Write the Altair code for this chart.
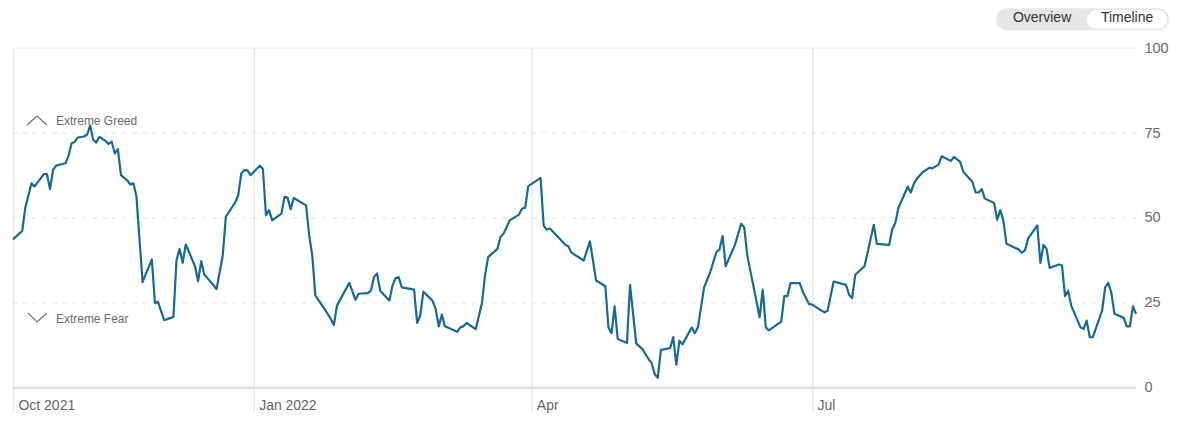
import altair as alt
import pandas as pd

# Days since 2021-10-15 and Fear & Greed index values
days = [0,3,4,6,7,10,11,12,13,14,17,18,19,20,21,23,24,25,26,27,28,30,31,32,33,34,35,37,38,39,40,42,45,46,47,49,52,53,54,55,56,59,60,61,62,66,68,69,
        72,73,74,75,76,77,80,81,82,83,84,87,88,89,90,91,95,96,97,98,101,103,104,105,109,111,112,115,116,117,118,119,122,123,124,125,126,130,131,132,133,136,137,138,139,140,144,145,
        146,147,150,152,153,154,157,158,159,161,164,165,166,167,171,172,173,174,177,179,180,181,185,187,189,192,193,194,195,196,199,200,202,204,206,207,208,209,210,213,214,215,216,217,
        220,221,222,224,226,228,229,230,231,234,236,237,238,242,243,244,245,249,250,251,252,255,256,258,259,263,264,266,270,271,272,273,276,279,280,284,285,286,287,290,
        291,292,293,295,297,298,300,301,304,305,307,308,311,312,313,314,315,318,319,320,321,322,326,327,328,329,332,333,334,335,336,339,340,341,342,343,346,347,348,349,350,353,354,355,356,357,360,361,362,363,364]

values = [43.7,46.2,53.1,60.2,59.3,62.9,62.9,58.5,64.2,65.4,66.1,68.3,72.0,72.4,73.7,74.0,74.5,77.2,73.0,72.2,73.9,72.7,71.8,72.5,69.0,70.3,62.6,61.1,59.9,60.2,56.5,31.1,37.8,25.0,25.3,19.9,20.9,37.6,40.9,36.8,42.2,35.8,31.4,37.3,33.4,29.1,39.1,50.4,
          54.5,56.7,63.1,64.1,64.0,62.6,65.4,64.4,50.8,52.3,49.3,51.3,56.2,56.0,52.6,55.9,53.7,44.9,39.0,27.2,23.2,20.3,18.5,24.2,30.9,25.9,27.7,27.9,28.6,32.6,33.7,28.6,25.7,30.1,32.3,32.6,29.6,28.9,19.1,21.3,28.3,25.6,23.2,18.1,21.6,18.1,16.5,17.8,
          18.1,19.1,17.3,25.0,33.1,38.5,40.9,44.4,45.4,49.3,51.0,52.8,53.0,59.4,61.8,47.8,46.6,46.9,44.1,42.1,41.7,39.8,37.5,43.1,31.6,29.9,17.8,16.1,24.0,14.4,13.2,30.3,13.1,11.4,8.5,7.3,4.0,3.0,11.2,11.7,14.9,6.8,13.9,12.8,
          17.8,16.1,17.8,29.6,34.1,40.0,40.7,44.7,35.8,42.1,48.3,47.3,39.0,20.8,28.9,17.8,16.9,19.5,27.0,27.0,30.8,30.8,28.3,24.7,24.5,22.2,22.7,31.3,30.3,27.4,26.4,33.3,35.8,48.0,42.4,42.1,46.7,48.6,53.0,59.2,
          57.5,60.1,61.6,63.6,64.8,64.6,65.7,68.2,66.8,68.0,66.5,63.6,60.6,57.5,57.5,58.5,55.7,54.4,49.5,52.3,49.3,42.4,40.7,39.8,40.5,43.9,47.8,36.8,42.1,40.9,35.3,36.3,36.0,27.0,28.6,24.2,17.8,17.3,19.8,14.9,14.9,22.7,29.6,30.9,28.0,21.8,20.6,18.1,18.1,24.0,21.8]

assert len(days) == len(values)

start = pd.Timestamp("2021-10-15")
dates = [(start + pd.Timedelta(days=d)).strftime("%Y-%m-%dT00:00:00") for d in days]
df = pd.DataFrame({"date": dates, "value": values})

dashed_levels = [25, 50, 75]
y_ticks = [0, 25, 50, 75, 100]
FONT = "Liberation Sans"
GRID = "#e8e8e8"

x_enc = alt.X(
    "date:T",
    scale=alt.Scale(domain=[alt.DateTime(year=2021, month=10, date=15),
                            alt.DateTime(year=2022, month=10, date=14)]),
    axis=alt.Axis(
        title=None,
        values=[alt.DateTime(year=2021, month=10, date=15),
                alt.DateTime(year=2022, month=1, date=1),
                alt.DateTime(year=2022, month=4, date=1),
                alt.DateTime(year=2022, month=7, date=1)],
        labelExpr="(month(datum.value)==9 || month(datum.value)==0) ? timeFormat(datum.value, '%b %Y') : timeFormat(datum.value, '%b')",
        grid=True, gridColor=GRID, gridWidth=1.5,
        ticks=True, tickSize=24, tickColor=GRID, tickWidth=1.5,
        domain=False,
        labelAlign="left", labelBaseline="middle", labelOffset=5, labelPadding=-6,
        labelFont=FONT, labelFontSize=14, labelColor="#666666",
        labelFlush=False, labelOverlap=False,
    ),
)

y_enc = alt.Y(
    "value:Q",
    scale=alt.Scale(domain=[0, 100], nice=False),
    axis=alt.Axis(
        title=None, orient="right", values=y_ticks,
        grid=False, ticks=False, domain=False,
        labelPadding=8, labelAlign="left", labelBaseline="middle",
        labelFont=FONT, labelFontSize=14.5, labelColor="#6b6b6b",
    ),
)

dash_df = pd.DataFrame({"value": dashed_levels})
top_df = pd.DataFrame({"value": [100]})
zero_df = pd.DataFrame({"value": [0]})

dashed = alt.Chart(dash_df).mark_rule(color="#e2e2e2", strokeWidth=1, strokeDash=[5, 5]).encode(y=y_enc)
top = alt.Chart(top_df).mark_rule(color="#ececec", strokeWidth=1).encode(y=y_enc)
zero = alt.Chart(zero_df).mark_rule(color="#dddddd", strokeWidth=2.5).encode(y=y_enc)

line = alt.Chart(df).mark_line(color="#176a97", strokeWidth=2.2, strokeJoin="round").encode(x=x_enc, y=y_enc)

one = alt.Data(values=[{}])

def chevron(pts):
    layers = []
    for (x1, y1), (x2, y2) in zip(pts[:-1], pts[1:]):
        layers.append(alt.Chart(one).mark_rule(color="#7a7a7a", strokeWidth=1.3).encode(
            x=alt.value(x1), y=alt.value(y1), x2=alt.value(x2), y2=alt.value(y2)))
    return layers

greed_chev = chevron([(14, 77), (24, 68), (34, 77)])
fear_chev = chevron([(15, 265), (24, 274), (34, 265)])

greed_txt = alt.Chart(one).mark_text(text="Extreme Greed", font=FONT, fontSize=12, color="#6b6b6b",
                                     align="left", baseline="middle").encode(x=alt.value(43), y=alt.value(73))
fear_txt = alt.Chart(one).mark_text(text="Extreme Fear", font=FONT, fontSize=12, color="#6b6b6b",
                                    align="left", baseline="middle").encode(x=alt.value(43), y=alt.value(271))

# Overview / Timeline toggle
pill_outer = alt.Chart(one).mark_rect(fill="#e6e6e6", cornerRadius=11).encode(
    x=alt.value(984), x2=alt.value(1157), y=alt.value(-40), y2=alt.value(-18))
pill_inner = alt.Chart(one).mark_rect(fill="#ffffff", cornerRadius=10).encode(
    x=alt.value(1075), x2=alt.value(1155), y=alt.value(-38.5), y2=alt.value(-19.5))
t_over = alt.Chart(one).mark_text(text="Overview", font=FONT, fontSize=14, color="#333333",
                                  align="center", baseline="middle").encode(x=alt.value(1030), y=alt.value(-30))
t_time = alt.Chart(one).mark_text(text="Timeline", font=FONT, fontSize=14, color="#333333",
                                  align="center", baseline="middle").encode(x=alt.value(1115), y=alt.value(-30))

chart = alt.layer(
    top, dashed, zero, line,
    *greed_chev, *fear_chev, greed_txt, fear_txt,
    pill_outer, pill_inner, t_over, t_time,
).properties(
    width=1124, height=340,
    padding={"left": 5, "top": 40, "right": 40, "bottom": 30},
    autosize=alt.AutoSizeParams(type="none"),
).configure_view(strokeWidth=0)

chart.save("out.html", embed_options={"renderer": "svg", "actions": False})
